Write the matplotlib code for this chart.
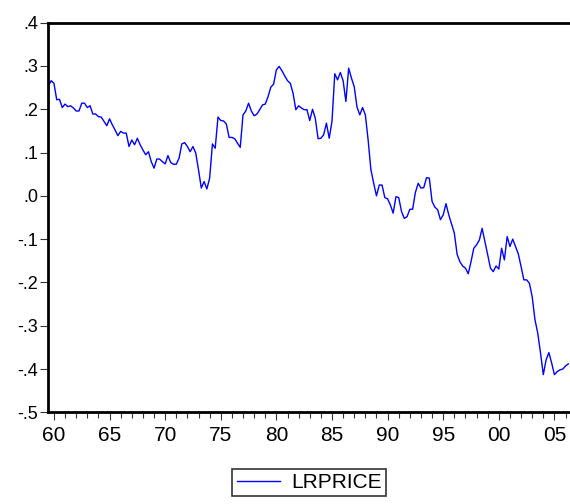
import matplotlib
matplotlib.use("Agg")
import matplotlib.pyplot as plt
from matplotlib.ticker import FixedLocator, MultipleLocator

# quarterly series, 1959Q3 .. 2006Q2
start_year = 1959.5
lrprice = [
    0.254, 0.266, 0.260, 0.222, 0.223, 0.204, 0.212, 0.206, 0.208, 0.203,
    0.196, 0.196, 0.214, 0.214, 0.204, 0.208, 0.189, 0.189, 0.183, 0.182,
    0.172, 0.162, 0.178, 0.164, 0.152, 0.139, 0.149, 0.145, 0.145, 0.114,
    0.129, 0.118, 0.133, 0.118, 0.106, 0.095, 0.102, 0.079, 0.064, 0.085,
    0.085, 0.079, 0.074, 0.093, 0.077, 0.073, 0.073, 0.087, 0.120, 0.123,
    0.114, 0.102, 0.114, 0.099, 0.060, 0.018, 0.033, 0.016, 0.041, 0.120,
    0.110, 0.182, 0.174, 0.173, 0.166, 0.135, 0.135, 0.132, 0.122, 0.112,
    0.187, 0.196, 0.214, 0.196, 0.185, 0.189, 0.199, 0.210, 0.212, 0.229,
    0.251, 0.258, 0.291, 0.299, 0.289, 0.277, 0.266, 0.260, 0.237, 0.199,
    0.208, 0.203, 0.199, 0.199, 0.174, 0.200, 0.179, 0.132, 0.133, 0.141,
    0.168, 0.133, 0.172, 0.282, 0.268, 0.285, 0.266, 0.218, 0.295, 0.272,
    0.252, 0.205, 0.187, 0.204, 0.187, 0.129, 0.060, 0.029, 0.000, 0.025,
    0.025, -0.004, -0.007, -0.021, -0.040, -0.002, -0.004, -0.036, -0.052, -0.048,
    -0.031, -0.031, 0.008, 0.029, 0.018, 0.019, 0.042, 0.041, -0.013, -0.026,
    -0.032, -0.055, -0.044, -0.018, -0.044, -0.065, -0.086, -0.135, -0.152, -0.162,
    -0.167, -0.180, -0.152, -0.121, -0.113, -0.102, -0.075, -0.106, -0.136, -0.167,
    -0.175, -0.162, -0.169, -0.121, -0.148, -0.094, -0.117, -0.100, -0.117, -0.134,
    -0.163, -0.194, -0.194, -0.202, -0.233, -0.286, -0.317, -0.363, -0.413, -0.379,
    -0.362, -0.386, -0.413, -0.406, -0.402, -0.400, -0.393, -0.388,
]
dates = [start_year + 0.25 * i for i in range(len(lrprice))]

year_ticks = list(range(1960, 2006, 5))
year_labels = ["%02d" % (y % 100) for y in year_ticks]
y_ticks = [0.4, 0.3, 0.2, 0.1, 0.0, -0.1, -0.2, -0.3, -0.4, -0.5]
y_labels = [".4", ".3", ".2", ".1", ".0", "-.1", "-.2", "-.3", "-.4", "-.5"]

plt.rcParams['font.family'] = ['Liberation Sans', 'DejaVu Sans']

fig = plt.figure(figsize=(5.7, 5.04), dpi=100)
ax = fig.add_axes([0.0837, 0.1819, 0.9163, 0.7731])

line, = ax.plot(dates, lrprice, color='#0000ff', linewidth=1.0, label='LRPRICE')

ax.set_xlim(1959.44, 2006.40)
ax.set_ylim(-0.5, 0.4)

# frame like EViews: heavy black box, right side cut off by the image
for side in ['left', 'bottom', 'top']:
    ax.spines[side].set_linewidth(2.0)
    ax.spines[side].set_color('black')
ax.spines['right'].set_visible(False)

ax.xaxis.set_major_locator(FixedLocator(year_ticks))
ax.xaxis.set_minor_locator(MultipleLocator(1))
ax.set_xticklabels(year_labels)
ax.yaxis.set_major_locator(FixedLocator(y_ticks))
ax.set_yticklabels(y_labels)

ax.tick_params(axis='x', which='major', direction='out', length=6, width=0.8,
               pad=4, labelsize=15, color='#333333')
ax.tick_params(axis='x', which='minor', direction='out', length=4, width=0.8,
               color='#333333')
ax.tick_params(axis='y', which='major', direction='out', length=5.5, width=0.8,
               pad=1.5, labelsize=13, color='#333333')
ax.tick_params(top=False, right=False)

# legend box sits at the very bottom of the picture
leg = fig.legend(handles=[line], loc='upper center',
                 bbox_to_anchor=(309 / 570, 1 - 469 / 504),
                 fontsize=15, frameon=True, fancybox=False,
                 handlelength=2.1, handletextpad=0.5, borderpad=0.2,
                 borderaxespad=0)
leg.get_frame().set_edgecolor('black')
leg.get_frame().set_linewidth(1.2)

fig.savefig('out.png', dpi=100)
